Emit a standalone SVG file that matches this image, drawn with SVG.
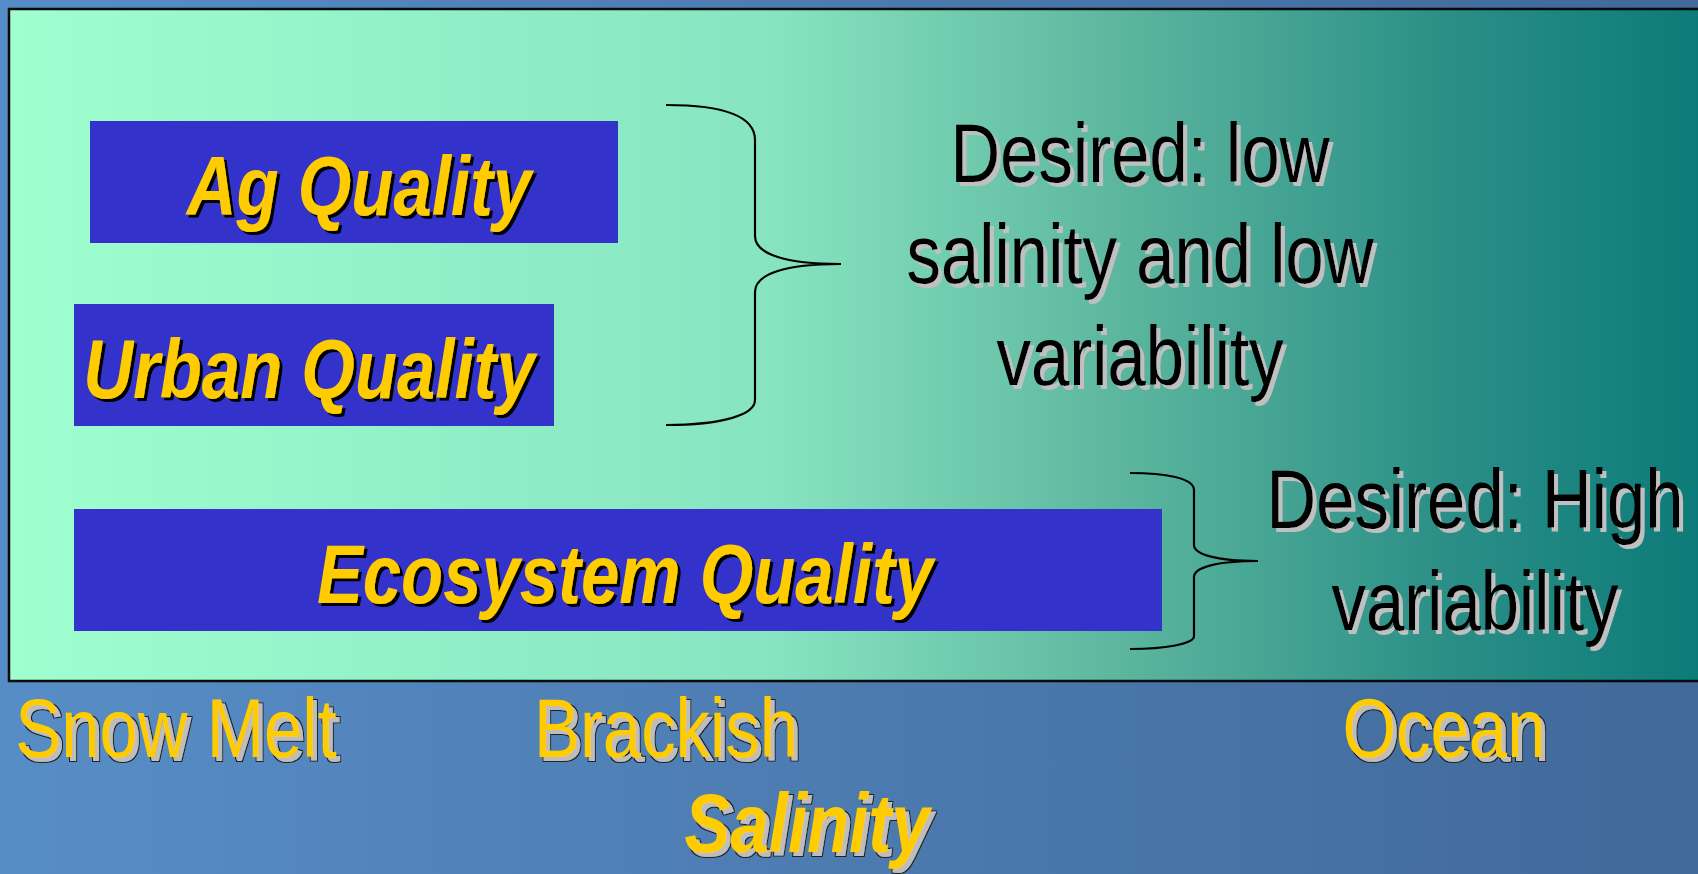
<svg xmlns="http://www.w3.org/2000/svg" width="1698" height="874" viewBox="0 0 1698 874">
<defs>
<linearGradient id="bg" x1="0" y1="0" x2="1" y2="0">
<stop offset="0" stop-color="#578dc6"/>
<stop offset="1" stop-color="#41699a"/>
</linearGradient>
<linearGradient id="panel" x1="0" y1="0" x2="1" y2="0">
<stop offset="0" stop-color="#9fffcf"/>
<stop offset="0.45" stop-color="#87e4c1"/>
<stop offset="0.65" stop-color="#5db79f"/>
<stop offset="0.85" stop-color="#2a8e86"/>
<stop offset="1" stop-color="#0b7a78"/>
</linearGradient>
<filter id="shGray" x="-5%" y="-20%" width="115%" height="150%">
<feOffset in="SourceAlpha" dx="4.9" dy="4" result="o"/>
<feFlood flood-color="#c0c0c0"/>
<feComposite in2="o" operator="in" result="s"/>
<feMerge><feMergeNode in="s"/><feMergeNode in="SourceGraphic"/></feMerge>
</filter>
<filter id="shGrayEdge" x="-5%" y="-20%" width="115%" height="150%">
<feOffset in="SourceAlpha" dx="4.9" dy="4" result="o"/>
<feMorphology in="o" operator="dilate" radius="0.7" result="od"/>
<feFlood flood-color="#222"/>
<feComposite in2="od" operator="in" result="edge"/>
<feFlood flood-color="#bdbdbd"/>
<feComposite in2="o" operator="in" result="s"/>
<feMerge><feMergeNode in="edge"/><feMergeNode in="s"/><feMergeNode in="SourceGraphic"/></feMerge>
</filter>
<filter id="shBlack" x="-5%" y="-20%" width="115%" height="150%">
<feOffset in="SourceAlpha" dx="3.7" dy="3" result="o"/>
<feFlood flood-color="#000"/>
<feComposite in2="o" operator="in" result="s"/>
<feMerge><feMergeNode in="s"/><feMergeNode in="SourceGraphic"/></feMerge>
</filter>
<style>
.t{font-family:"Liberation Sans",Arial,sans-serif;font-size:84px;text-anchor:middle}
.bi{font-weight:bold;font-style:italic}
.blk{fill:#000;filter:url(#shGray)}
.yel{fill:#ffcc00}
.ybox{fill:#ffcc00;filter:url(#shBlack)}
.ylab{fill:#ffcc00;filter:url(#shGrayEdge)}
.box{fill:#3333cc}
.brace{fill:none;stroke:#000;stroke-width:2.2}
</style>
</defs>
<rect x="0" y="0" width="1698" height="874" fill="url(#bg)"/>
<rect id="panel-bg" x="9" y="9" width="1700" height="672" fill="url(#panel)" stroke="#0a0a0a" stroke-width="2.5"/>

<g id="ag">
<rect class="box" x="90" y="121" width="528" height="122"/>
<text class="t bi ybox" transform="translate(359,215) scale(0.82,1)">Ag Quality</text>
</g>
<g id="urban">
<rect class="box" x="74" y="304" width="480" height="122"/>
<text class="t bi ybox" transform="translate(309,398) scale(0.82,1)">Urban Quality</text>
</g>
<g id="eco">
<rect class="box" x="74" y="509" width="1088" height="122"/>
<text class="t bi ybox" transform="translate(625,603) scale(0.82,1)">Ecosystem Quality</text>
</g>

<g id="desired-low">
<text class="t blk" transform="translate(1140,182) scale(0.82,1)">Desired: low</text>
<text class="t blk" transform="translate(1140,283) scale(0.82,1)">salinity and low</text>
<text class="t blk" transform="translate(1140,385) scale(0.82,1)">variability</text>
</g>
<g id="desired-high">
<text class="t blk" transform="translate(1475,528) scale(0.82,1)">Desired: High</text>
<text class="t blk" transform="translate(1475,630) scale(0.82,1)">variability</text>
</g>

<g id="connectors">
<path class="brace" d="M666,105 C722,105 755,116 755,140 L755,236 C755,254 785,264 841,264 C785,264 755,274 755,292 L755,400 C755,415 722,425 666,425"/>
<path class="brace" d="M1130,473 C1165,473 1194,478 1194,490 L1194,545 C1194,554 1215,561 1258,561 C1215,561 1194,568 1194,577 L1194,636 C1194,644 1165,649 1130,649"/>
</g>

<g id="snow-melt">
<text class="t ylab" transform="translate(176,757) scale(0.82,1)">Snow Melt</text>
</g>
<g id="brackish">
<text class="t ylab" transform="translate(666,757) scale(0.82,1)">Brackish</text>
</g>
<g id="ocean">
<text class="t ylab" transform="translate(1444,757) scale(0.82,1)">Ocean</text>
</g>
<g id="salinity">
<text class="t bi ylab" transform="translate(807,852) scale(0.82,1)">Salinity</text>
</g>
</svg>
